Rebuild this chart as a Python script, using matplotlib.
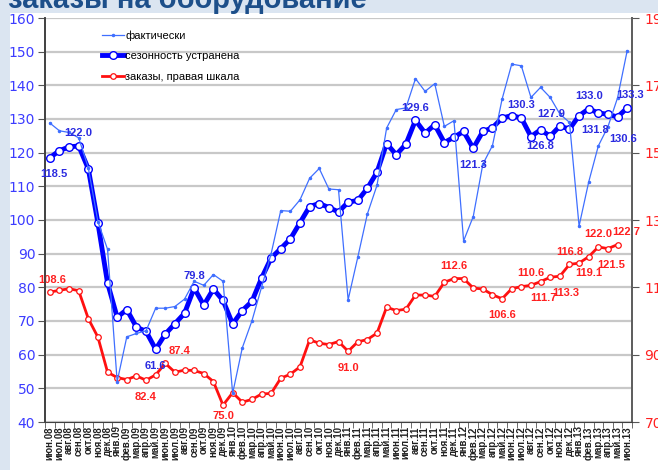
import numpy as np
import matplotlib
matplotlib.use("Agg")
import matplotlib.pyplot as plt
from matplotlib.patches import Rectangle

# --- Daten ---
months = ["янв", "фев", "мар", "апр", "май", "июн",
          "июл", "авг", "сен", "окт", "ноя", "дек"]
labels = []
m, y = 5, 8  # июн.08
for k in range(61):
    labels.append(f"{months[m]}.{y:02d}")
    m += 1
    if m == 12:
        m = 0
        y += 1

fact = [128.8, 126.5, 126.0, 124.4, 115.5, 99.5, 91.3, 52.0, 65.3, 66.3,
        67.1, 73.8, 73.8, 74.3, 76.5, 81.8, 80.6, 83.8, 81.8, 48.5,
        62.0, 70.0, 80.0, 90.0, 102.8, 102.6, 106.0, 112.4, 115.3, 109.2,
        109.0, 76.3, 88.9, 101.8, 110.3, 127.3, 132.8, 133.3, 142.0, 138.2,
        140.5, 127.8, 129.5, 93.8, 101.0, 116.6, 122.1, 135.9, 146.3, 145.8,
        136.4, 139.4, 136.4, 131.5, 129.0, 98.2, 111.3, 122.0, 127.7, 136.3,
        150.3]

sa = [118.5, 120.6, 121.7, 122.0, 115.2, 99.1, 81.3, 71.1, 73.4, 68.2,
      66.9, 61.6, 66.1, 69.2, 72.3, 79.8, 74.7, 79.5, 76.1, 69.1,
      73.1, 75.8, 82.7, 88.7, 91.5, 94.4, 99.2, 104.0, 104.9, 103.7,
      102.4, 105.3, 105.8, 109.4, 114.2, 122.7, 119.4, 122.5, 129.6, 125.8,
      128.3, 123.0, 124.6, 126.3, 121.3, 126.3, 127.4, 130.3, 131.0, 130.3,
      124.8, 126.8, 124.9, 127.9, 127.0, 131.0, 133.0, 131.8, 131.4, 130.6,
      133.3]

orders = [108.6, 109.1, 109.6, 109.0, 100.7, 95.2, 84.8, 83.2, 82.6, 83.7,
          82.4, 84.0, 87.4, 84.8, 85.4, 85.3, 84.4, 82.0, 75.0, 78.7,
          75.9, 76.7, 78.3, 78.5, 83.0, 84.2, 86.4, 94.4, 93.4, 93.0,
          93.9, 91.0, 93.8, 94.5, 96.4, 104.1, 103.1, 103.5, 107.7, 107.7,
          107.3, 111.5, 112.6, 112.6, 109.8, 109.5, 107.8, 106.6, 109.6, 110.2,
          110.6, 111.7, 113.0, 113.3, 116.8, 117.2, 119.1, 122.0, 121.5, 122.7]

# Beschriftete Punkte: (Index, Offset x, Offset y)
sa_lab = [(0, 3, -12), (3, 0, 9), (11, 0, -12), (15, 0, 9), (38, 0, 9),
          (44, 0, -12), (49, 0, 9), (51, 0, -12), (53, -6, 9), (56, 0, 9),
          (57, -2, -12), (59, 4, -16), (60, 2, 9)]
or_lab = [(0, 2, 9), (10, 0, -12), (12, 10, 9), (18, 0, -8), (31, 0, -12),
          (42, 0, 9), (47, 0, -12), (50, 0, 9), (51, 2, -12), (53, 4, -12),
          (54, 0, 9), (56, 0, -12), (57, 0, 9), (58, 2, -12), (59, 6, 9)]

x = np.arange(len(sa))
xo = np.arange(len(orders))

fig = plt.figure(figsize=(6.58, 4.70), dpi=100, facecolor="#dbe5f1")
fig.patches.append(Rectangle((10/658, 0), 1, 1 - 13/470, transform=fig.transFigure,
                             facecolor="white", edgecolor="none", zorder=-5))
fig.text(8/658, 1.0, "заказы на оборудование", fontsize=21, fontweight="bold",
         color="#1d4f8a", va="center", ha="left", family="Liberation Sans")

ax = fig.add_axes([45/658, 1 - 422/470, 587/658, 404/470])
ax2 = ax.twinx()
ax.set_zorder(ax2.get_zorder() + 1)
ax.patch.set_visible(False)
ax2.patch.set_visible(False)

ax.set_xlim(-0.5, 60.5)
ax.set_ylim(40, 160)
ax2.set_ylim(70, 190)

for v in range(40, 161, 10):
    ax2.axhline(v + 30, color="#c8c8c8", lw=1.6, zorder=0)

lf = dict(family=["Liberation Sans Narrow", "Liberation Sans"], fontweight="bold", fontsize=8)

ax2.plot(xo, orders, color="#ff1010", lw=2, marker="o", ms=4, mfc="white",
         mec="#ff1010", mew=0.9, label="заказы, правая шкала", zorder=3)
ax.plot(x, sa, color="#0000ff", lw=3.5, marker="o", ms=5.5, mfc="white",
        mec="#0000ff", mew=1, label="сезонность устранена", zorder=3)
ax.plot(x, fact, color="#3f6fff", lw=0.9, marker=".", ms=3,
        label="фактически", zorder=4)

for i, dx, dy in sa_lab:
    ax.annotate(f"{sa[i]:.1f}", (i, sa[i]), xytext=(dx, dy), textcoords="offset points",
                ha="center", va="center", color="#2a2ae0", zorder=6, **lf)
for i, dx, dy in or_lab:
    ax2.annotate(f"{orders[i]:.1f}", (i, orders[i]), xytext=(dx, dy), textcoords="offset points",
                 ha="center", va="center", color="#ff2020", zorder=6, **lf)

# Legende
h1 = ax.get_lines()
h2 = ax2.get_lines()
handles = [h1[-1], h1[-2], h2[-1]]
ax.legend(handles, [h.get_label() for h in handles], loc="upper left",
          bbox_to_anchor=(0.08, 0.995), frameon=False,
          handlelength=2.0, handletextpad=0.1, labelspacing=0.95,
          prop={"family": "Liberation Sans", "size": 8})

# Achsen
ax.set_xticks(x)
ax.set_xticklabels(labels, rotation=90, fontsize=7, color="#222222",
                   family="Liberation Sans", fontweight="bold")
ax.tick_params(axis="x", length=0, pad=3)
ax.set_xticks(np.arange(-0.5, 61, 1), minor=True)
ax.tick_params(axis="x", which="minor", length=4, color="#555555", direction="out")

ax.set_yticks(range(40, 161, 10))
ax.tick_params(axis="y", length=5, color="#555555", labelsize=10, labelcolor="#3c3cff", pad=2)
ax2.set_yticks(range(70, 191, 20))
ax2.tick_params(axis="y", length=5, color="#555555", labelsize=10, labelcolor="#ff2020", pad=4)

for a in (ax, ax2):
    a.spines["top"].set_visible(False)
    a.spines["left"].set_color("#404040")
    a.spines["right"].set_color("#606060")
    a.spines["bottom"].set_color("#404040")
    a.spines["left"].set_linewidth(1.2)
    a.spines["right"].set_linewidth(1.4)
ax2.spines["bottom"].set_visible(False)

fig.savefig("out.png", dpi=100, facecolor=fig.get_facecolor())
